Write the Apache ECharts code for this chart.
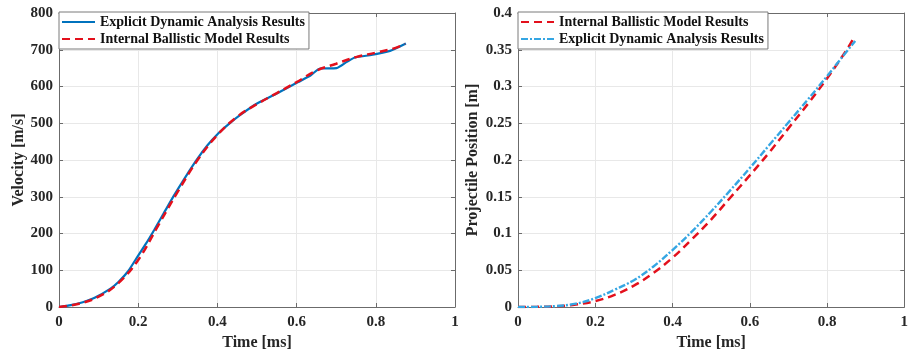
<!DOCTYPE html>
<html>
<head>
<meta charset="utf-8">
<script src="https://cdn.jsdelivr.net/npm/echarts@6/dist/echarts.min.js"></script>
<style>
  html, body { margin: 0; padding: 0; background: #fff; }
  #chart { width: 911px; height: 356px; }
</style>
</head>
<body>
<div id="chart"></div>
<script>
// Muzzle velocity history: explicit dynamic FE results vs internal ballistic model
const velExplicitTime = [0, 0.03, 0.06, 0.09, 0.13, 0.15, 0.175, 0.2, 0.22, 0.24, 0.263, 0.289, 0.32, 0.348, 0.375, 0.402, 0.43, 0.457, 0.499, 0.55, 0.604, 0.635, 0.659, 0.701, 0.727, 0.747, 0.785, 0.836, 0.876];
const velExplicit     = [0, 5, 13, 25, 50, 68, 98, 140, 173, 209, 252, 301, 355, 401, 440, 472, 499, 522, 553, 581, 612, 630, 649, 650, 667, 679, 685, 697, 717];
const velModelTime    = [0, 0.05, 0.1, 0.15, 0.2, 0.25, 0.3, 0.35, 0.4, 0.45, 0.5, 0.55, 0.6, 0.65, 0.7, 0.75, 0.8, 0.85, 0.874];
const velModel        = [0, 9, 28, 65, 128, 221, 314, 400, 468, 518, 552, 582, 612, 643, 662, 680, 692, 705, 716];

// Projectile travel along the barrel
const posModelTime    = [0, 0.05, 0.1, 0.15, 0.2, 0.25, 0.3, 0.35, 0.4, 0.45, 0.5, 0.55, 0.6, 0.65, 0.7, 0.75, 0.8, 0.85, 0.867];
const posModel        = [0, 0.0002, 0.001, 0.0035, 0.008, 0.0165, 0.029, 0.046, 0.067, 0.092, 0.119, 0.149, 0.179, 0.21, 0.243, 0.276, 0.311, 0.349, 0.364];
const posExplicitTime = [0, 0.05, 0.1, 0.15, 0.2, 0.25, 0.3, 0.35, 0.4, 0.45, 0.5, 0.55, 0.6, 0.65, 0.7, 0.75, 0.8, 0.85, 0.873];
const posExplicit     = [0, 0.0003, 0.0013, 0.0045, 0.012, 0.0235, 0.0365, 0.0548, 0.0775, 0.1025, 0.13, 0.159, 0.189, 0.22, 0.251, 0.282, 0.314, 0.347, 0.362];

const legendText = {
  'vel-explicit': 'Explicit Dynamic Analysis Results',
  'vel-model': 'Internal Ballistic Model Results',
  'pos-model': 'Internal Ballistic Model Results',
  'pos-explicit': 'Explicit Dynamic Analysis Results'
};

const zip = (xs, ys) => xs.map((x, i) => [x, ys[i]]);

const FONT = '"Liberation Serif", "Times New Roman", serif';
const AXIS_COLOR = '#6b6b6b';
const LABEL_COLOR = '#262626';
const GRID_COLOR = '#e8e8e8';

function mainX(gridIndex) {
  return {
    type: 'value', gridIndex, min: 0, max: 1, interval: 0.2,
    name: 'Time [ms]', nameLocation: 'middle', nameGap: 26,
    nameTextStyle: { fontFamily: FONT, fontWeight: 'bold', fontSize: 16, color: LABEL_COLOR },
    axisLine: { show: true, onZero: false, lineStyle: { color: AXIS_COLOR } },
    axisTick: { show: true, inside: true, length: 4, lineStyle: { color: AXIS_COLOR } },
    axisLabel: { fontFamily: FONT, fontWeight: 'bold', fontSize: 15, color: LABEL_COLOR, margin: 8,
                 formatter: v => String(+v.toFixed(2)) },
    splitLine: { show: true, lineStyle: { color: GRID_COLOR } }
  };
}
function topX(gridIndex) {
  return {
    type: 'value', gridIndex, position: 'top', min: 0, max: 1, interval: 0.2,
    axisLine: { show: true, onZero: false, lineStyle: { color: AXIS_COLOR } },
    axisTick: { show: true, inside: true, length: 4, lineStyle: { color: AXIS_COLOR } },
    axisLabel: { show: false }, splitLine: { show: false }
  };
}
function mainY(gridIndex, max, interval, name, gap) {
  return {
    type: 'value', gridIndex, min: 0, max, interval,
    name, nameLocation: 'middle', nameGap: gap,
    nameTextStyle: { fontFamily: FONT, fontWeight: 'bold', fontSize: 16, color: LABEL_COLOR },
    axisLine: { show: true, onZero: false, lineStyle: { color: AXIS_COLOR } },
    axisTick: { show: true, inside: true, length: 4, lineStyle: { color: AXIS_COLOR } },
    axisLabel: { fontFamily: FONT, fontWeight: 'bold', fontSize: 15, color: LABEL_COLOR, margin: 6,
                 formatter: v => String(+v.toFixed(3)) },
    splitLine: { show: true, lineStyle: { color: GRID_COLOR } }
  };
}
function rightY(gridIndex, max, interval) {
  return {
    type: 'value', gridIndex, position: 'right', min: 0, max, interval,
    axisLine: { show: true, onZero: false, lineStyle: { color: AXIS_COLOR } },
    axisTick: { show: true, inside: true, length: 4, lineStyle: { color: AXIS_COLOR } },
    axisLabel: { show: false }, splitLine: { show: false }
  };
}
function legendBox(left, names) {
  return {
    orient: 'vertical', left, top: 12,
    data: names,
    formatter: n => legendText[n],
    itemWidth: 33, itemHeight: 14, itemGap: 1,
    padding: [2, 4, 2, 2],
    backgroundColor: '#fff', borderColor: '#7a7a7a', borderWidth: 1,
    selectedMode: false,
    // line-only key: hide the marker glyph drawn on top of the line sample
    itemStyle: { color: 'rgba(0,0,0,0)', borderColor: 'rgba(0,0,0,0)', borderWidth: 0, opacity: 0 },
    textStyle: { fontFamily: FONT, fontWeight: 'bold', fontSize: 14, color: '#111', lineHeight: 16 }
  };
}

function lineSeries(name, axis, times, values, color, width, dash, smooth) {
  return {
    name, type: 'line', xAxisIndex: axis, yAxisIndex: axis,
    data: zip(times, values), showSymbol: false, symbol: 'none', smooth,
    lineStyle: { color, width, type: dash }, itemStyle: { color }
  };
}

const chart = echarts.init(document.getElementById('chart'), null, { renderer: 'canvas' });
chart.setOption({
  animation: false,
  backgroundColor: '#fff',
  grid: [
    { left: 59, top: 13, width: 396, height: 294 },
    { left: 518, top: 13, width: 394.5, height: 294 }
  ],
  xAxis: [mainX(0), mainX(1), topX(0), topX(1)],
  yAxis: [
    mainY(0, 800, 100, 'Velocity [m/s]', 31),
    mainY(1, 0.4, 0.05, 'Projectile Position [m]', 37),
    rightY(0, 800, 100),
    rightY(1, 0.4, 0.05)
  ],
  legend: [
    legendBox(59, ['vel-explicit', 'vel-model']),
    legendBox(518, ['pos-model', 'pos-explicit'])
  ],
  series: [
    lineSeries('vel-explicit', 0, velExplicitTime, velExplicit, '#0072BD', 2.2, 'solid', 0.2),
    lineSeries('vel-model', 0, velModelTime, velModel, '#E3101C', 2.5, [8, 5], 0.4),
    lineSeries('pos-model', 1, posModelTime, posModel, '#E3101C', 2.5, [8, 5], 0.4),
    lineSeries('pos-explicit', 1, posExplicitTime, posExplicit, '#35A6E3', 2.4, [7, 2, 2, 2], 0.4)
  ]
});
</script>
</body>
</html>
